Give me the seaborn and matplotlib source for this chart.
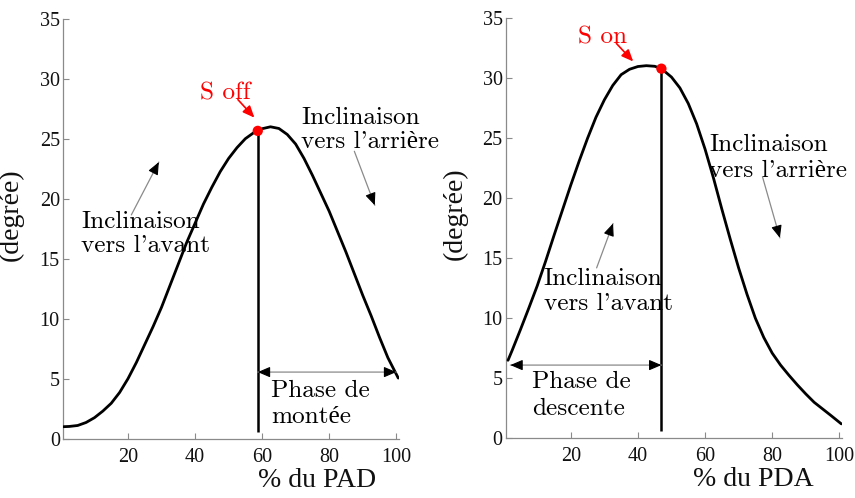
import numpy as np
import pandas as pd
import matplotlib
matplotlib.use("Agg")
import matplotlib.pyplot as plt
import seaborn as sns

# ---------------- data ----------------
pad_x = [0.8, 2.5, 5, 7.5, 10, 12.5, 15, 17.5, 20, 22.5, 25, 27.5, 30, 32.5, 35, 37.5, 40, 42.5, 45, 47.5,
         50, 52.5, 55, 57.5, 60, 62.5, 65, 67.5, 70, 72.5, 75, 77.5, 80, 82.5, 85, 87.5, 90, 92.5, 95, 97.5, 100.6]
pad_y = [1.05, 1.07, 1.15, 1.4, 1.8, 2.35, 3.0, 3.9, 5.05, 6.4, 7.9, 9.4, 11.0, 12.8, 14.6, 16.4, 18.0, 19.6, 21.0, 22.3,
         23.4, 24.3, 25.05, 25.55, 25.88, 26.04, 25.9, 25.4, 24.6, 23.4, 22.0, 20.5, 19.0, 17.3, 15.6, 13.8, 12.0, 10.3, 8.5, 6.8, 5.1]

pda_x = [1.3, 2.5, 5, 7.5, 10, 12.5, 15, 17.5, 20, 22.5, 25, 27.5, 30, 32.5, 35, 37.5, 40, 42.5, 45, 47,
         50, 52.5, 55, 57.5, 60, 62.5, 65, 67.5, 70, 72.5, 75, 77.5, 80, 82.5, 85, 87.5, 90, 92.5, 95, 97.5, 100.6]
pda_y = [6.5, 7.3, 9.05, 10.85, 12.7, 14.75, 16.9, 19.0, 21.1, 23.1, 25.0, 26.75, 28.2, 29.4, 30.3, 30.75, 30.98, 31.05, 31.0, 30.8,
         30.1, 29.2, 27.9, 26.2, 24.1, 21.7, 19.1, 16.6, 14.2, 12.0, 10.0, 8.4, 7.1, 6.1, 5.25, 4.45, 3.7, 3.0, 2.45, 1.9, 1.2]

s_off_x, s_off_y = 58.7, 25.7
s_on_x, s_on_y = 47.0, 30.8

x_ticks = [20, 40, 60, 80, 100]
y_ticks = [0, 5, 10, 15, 20, 25, 30, 35]

x_labels = ["% du PAD", "% du PDA"]
y_label = "(degrée)"
red_labels = ["S off", "S on"]
arriere_lines = ["Inclinaison", "vers l'arrière"]
avant_lines = ["Inclinaison", "vers l'avant"]
phase_left_lines = ["Phase de", "montée"]
phase_right_lines = ["Phase de", "descente"]

# ---------------- style ----------------
sns.set_style("ticks")
plt.rcParams["font.family"] = ["Liberation Serif", "DejaVu Serif"]
CM = ["cmr10", "Liberation Serif"]
CM_SIZE = 18.2
GRAY = "#8a8a8a"

fig = plt.figure(figsize=(8.55, 4.98), dpi=100)
ax1 = fig.add_axes([0.0740, 0.1179, 0.3926, 0.8434])
ax2 = fig.add_axes([0.5918, 0.1199, 0.3930, 0.8434])

pad_df = pd.DataFrame({"x": pad_x, "y": pad_y})
pda_df = pd.DataFrame({"x": pda_x, "y": pda_y})

for ax, df, sx, sy in [(ax1, pad_df, s_off_x, s_off_y), (ax2, pda_df, s_on_x, s_on_y)]:
    ax.vlines(sx, 0.6, sy, color="black", lw=1.8, zorder=3)
    sns.lineplot(data=df, x="x", y="y", ax=ax, color="black", lw=2.0, sort=False, zorder=4)
    sns.scatterplot(x=[sx], y=[sy], ax=ax, color="red", s=55, edgecolor="none", zorder=5)
    ax.set_xlim(0.7, 100.8)
    ax.set_ylim(0, 35)
    ax.set_xticks(x_ticks)
    ax.set_yticks(y_ticks)
    ax.set_xticklabels([str(t) for t in x_ticks])
    ax.set_yticklabels([str(t) for t in y_ticks])
    sns.despine(ax=ax)
    for sp in ["left", "bottom"]:
        ax.spines[sp].set_color(GRAY)
        ax.spines[sp].set_linewidth(0.9)
    ax.tick_params(direction="in", length=4, width=0.8, color=GRAY, labelsize=14.5, labelcolor="#111111")
    ax.tick_params(axis="x", pad=6)
    ax.tick_params(axis="y", pad=2.5)
    ax.set_ylabel(y_label, fontsize=20, color="#111111")
    ax.set_xlabel("")

ax1.set_xlabel(x_labels[0], fontsize=20, color="#111111")
ax2.set_xlabel(x_labels[1], fontsize=20, color="#111111")
ax1.xaxis.set_label_coords(0.755, -0.068)
ax2.xaxis.set_label_coords(0.736, -0.068)
ax1.yaxis.set_label_coords(-0.117, 0.535)
ax2.yaxis.set_label_coords(-0.115, 0.534)


def text_lines(ax, x, baselines, lines, color="black"):
    for yb, s in zip(baselines, lines):
        ax.text(x, yb, s, family=CM, fontsize=CM_SIZE, color=color, ha="left", va="baseline", zorder=6)


def head(ax, start, tip, color, size=10, hl=0.75, hw=0.32):
    p0 = ax.transData.transform(start)
    p1 = ax.transData.transform(tip)
    d = p1 - p0
    d = d / np.hypot(*d)
    back = -d * 9
    ax.annotate("", xy=tip, xycoords="data", xytext=(back[0], back[1]), textcoords="offset pixels",
                arrowprops=dict(arrowstyle=f"-|>,head_length={hl},head_width={hw}", color=color, lw=0.8,
                                shrinkA=0, shrinkB=0, mutation_scale=size), zorder=7)


def arrow(ax, start, tip, linecolor, headcolor, lw=0.9, double=False):
    ax.annotate("", xy=tip, xytext=start, arrowprops=dict(arrowstyle="-", color=linecolor, lw=lw,
                                                          shrinkA=0, shrinkB=0), zorder=6)
    head(ax, start, tip, headcolor)
    if double:
        head(ax, tip, start, headcolor)


# left panel annotations
ax1.text(41.4, 28.3, red_labels[0], family=CM, fontsize=CM_SIZE, color="red", ha="left", va="baseline")
ax1.annotate("", xy=(57.7, 26.8), xytext=(52.8, 28.3),
             arrowprops=dict(arrowstyle="-|>,head_length=0.7,head_width=0.3", color="red", lw=1.2,
                             shrinkA=0, shrinkB=0, mutation_scale=10))
text_lines(ax1, 71.7, [26.3, 24.25], arriere_lines)
text_lines(ax1, 6.1, [17.6, 15.6], avant_lines)
text_lines(ax1, 62.7, [3.55, 1.33], phase_left_lines)
arrow(ax1, (21.0, 18.7), (29.2, 23.1), GRAY, "black")
arrow(ax1, (87.5, 24.0), (93.6, 19.5), GRAY, "black")
arrow(ax1, (s_off_x, 5.6), (100.0, 5.6), GRAY, "black", double=True)

# right panel annotations
ax2.text(22.3, 32.9, red_labels[1], family=CM, fontsize=CM_SIZE, color="red", ha="left", va="baseline")
ax2.annotate("", xy=(38.6, 31.4), xytext=(33.6, 32.9),
             arrowprops=dict(arrowstyle="-|>,head_length=0.7,head_width=0.3", color="red", lw=1.2,
                             shrinkA=0, shrinkB=0, mutation_scale=10))
text_lines(ax2, 61.3, [23.9, 21.8], arriere_lines)
text_lines(ax2, 11.9, [12.8, 10.7], avant_lines)
text_lines(ax2, 8.4, [4.2, 1.9], phase_right_lines)
arrow(ax2, (77.1, 21.8), (82.3, 16.7), GRAY, "black")
arrow(ax2, (27.7, 14.2), (32.6, 17.9), GRAY, "black")
arrow(ax2, (2.0, 6.1), (s_on_x, 6.1), GRAY, "black", double=True)

fig.savefig("out.png", dpi=100)
